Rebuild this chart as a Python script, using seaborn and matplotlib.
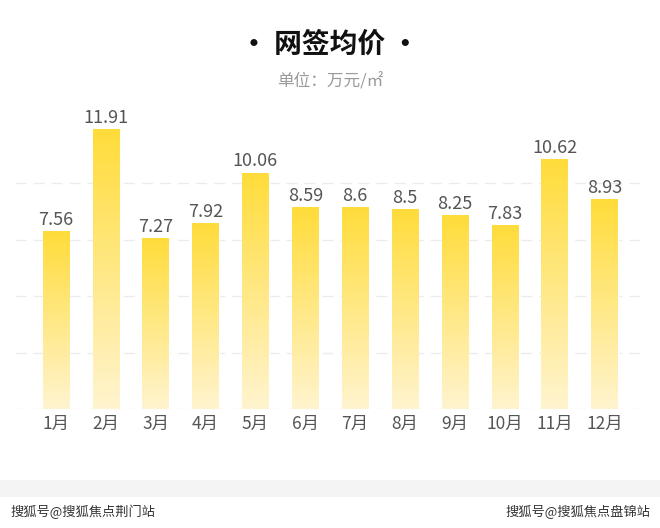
import numpy as np
import pandas as pd
import matplotlib
matplotlib.use('Agg')
import matplotlib.pyplot as plt
from matplotlib.colors import LinearSegmentedColormap
import seaborn as sns

months = ['1月', '2月', '3月', '4月', '5月', '6月', '7月', '8月', '9月', '10月', '11月', '12月']
prices = [7.56, 11.91, 7.27, 7.92, 10.06, 8.59, 8.6, 8.5, 8.25, 7.83, 10.62, 8.93]
labels = ['7.56', '11.91', '7.27', '7.92', '10.06', '8.59', '8.6', '8.5', '8.25', '7.83', '10.62', '8.93']

df = pd.DataFrame({'month': months, 'price': prices})

sns.set_style('white')
plt.rcParams['font.family'] = ['Noto Sans CJK SC', 'DejaVu Sans']

fig = plt.figure(figsize=(6.6, 5.28), dpi=100)
fig.patch.set_facecolor('white')

# light grey band near the bottom
fig.patches.append(plt.Rectangle((0, 1 - 497 / 528), 1, 17 / 528, transform=fig.transFigure,
                                 facecolor='#f4f4f4', edgecolor='none', zorder=0))

ax = fig.add_axes([15 / 660, 1 - 409 / 528, 627 / 660, 282 / 528])
sns.barplot(data=df, x='month', y='price', color='#ffdd40', width=0.53, ax=ax, zorder=3)

# gradient fill for bars
cmap = LinearSegmentedColormap.from_list('yel', ['#fff4cf', '#ffdc3a'])
grad = np.linspace(0, 1, 256).reshape(-1, 1)
for p in ax.patches:
    x0, w, h = p.get_x(), p.get_width(), p.get_height()
    p.set_facecolor('none')
    im = ax.imshow(grad, cmap=cmap, origin='lower', aspect='auto',
                   extent=[x0, x0 + w, 0, h], zorder=3)
    im.set_clip_path(p)
ax.set_xlim(-0.82, 11.75)
ax.set_ylim(0, 12)

for i, (v, t) in enumerate(zip(prices, labels)):
    ax.text(i, v + 0.1, t, ha='center', va='bottom', fontsize=13,
            color='#555555', zorder=5)

for g in [0, 2.4, 4.8, 7.2, 9.6]:
    ax.axhline(g, color='#ececec', lw=1, ls=(0, (8, 5)), zorder=1)

for s in ax.spines.values():
    s.set_visible(False)
ax.set_yticks([])
ax.set_xlabel('')
ax.set_ylabel('')
ax.tick_params(axis='x', length=0, pad=4, labelsize=12.5, labelcolor='#555555')

fig.text(0.5, 1 - 45 / 528, '· 网签均价 ·', ha='center', va='center', fontsize=20,
         fontweight='bold', color='#111111')
fig.text(0.5, 1 - 82 / 528, '单位：万元/㎡', ha='center', va='center', fontsize=12,
         color='#9a9a9a')

fig.text(10 / 660, 1 - 512 / 528, '搜狐号@搜狐焦点荆门站', ha='left', va='center',
         fontsize=9.5, color='#333333')
fig.text(650 / 660, 1 - 512 / 528, '搜狐号@搜狐焦点盘锦站', ha='right', va='center',
         fontsize=9.5, color='#333333')

fig.savefig('out.png', dpi=100)
